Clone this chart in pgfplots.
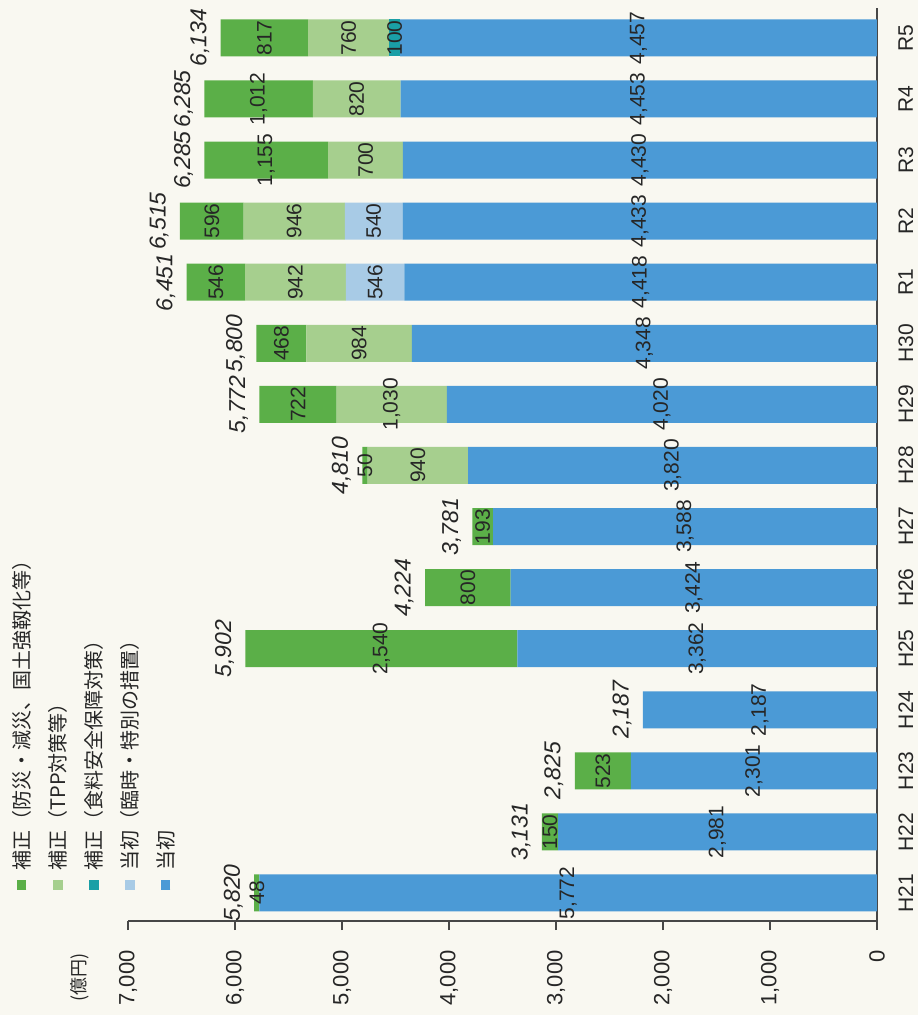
\documentclass[border=0pt]{standalone}
\usepackage{fontspec}
\setmainfont{Liberation Sans}
\newfontfamily\jp{Noto Sans CJK JP}
\usepackage{graphicx}
\usepackage{pgfplots}
\usepackage{pgfplotstable}
\pgfplotsset{compat=1.18}

\definecolor{tousho}{HTML}{4B9AD6}
\definecolor{rinji}{HTML}{A8CBE6}
\definecolor{shokuryo}{HTML}{1A9FA6}
\definecolor{tpp}{HTML}{A6CF8E}
\definecolor{bousai}{HTML}{5BAF48}
\definecolor{paper}{HTML}{F9F8F1}
\definecolor{ink}{HTML}{262626}

% legend entry turned on its side: swatch first, then the text
\newcommand{\legitem}[2]{\rotatebox{90}{\textcolor{#1}{\rule[1.5pt]{4.6pt}{4.6pt}}\hspace{5pt}#2}}
\newcommand{\up}[1]{\rotatebox{90}{#1}}

% budget by year, 億円 (H21 ... R5 -> y = 0 ... 14)
\pgfplotstableread{
y tousho rinji shokuryo tpp bousai
0  5772 0   0   0    48
1  2981 0   0   0    150
2  2301 0   0   0    523
3  2187 0   0   0    0
4  3362 0   0   0    2540
5  3424 0   0   0    800
6  3588 0   0   0    193
7  3820 0   0   940  50
8  4020 0   0   1030 722
9  4348 0   0   984  468
10 4418 546 0   942  546
11 4433 540 0   946  596
12 4430 0   0   700  1155
13 4453 0   0   820  1012
14 4457 0   100 760  817
}\budget

% labels in the middle of each segment
\pgfplotstableread{
x y lab
2886   0  5,772
5796   0  48
1490.5 1  2,981
3056   1  150
1150.5 2  2,301
2562.5 2  523
1093.5 3  2,187
1681   4  3,362
4632   4  2,540
1712   5  3,424
3824   5  800
1794   6  3,588
3684.5 6  193
1910   7  3,820
4290   7  940
4785   7  50
2010   8  4,020
4535   8  1,030
5411   8  722
2174   9  4,348
4840   9  984
5566   9  468
2209   10 4,418
4691   10 546
5435   10 942
6179   10 546
2216.5 11 4,433
4703   11 540
5446   11 946
6217   11 596
2215   12 4,430
4780   12 700
5707.5 12 1,155
2226.5 13 4,453
4863   13 820
5779   13 1,012
2228.5 14 4,457
4507   14 100
4937   14 760
5725.5 14 817
}\seglabels

% totals at the end of each bar
\pgfplotstableread{
x y lab
5820 0  5,820
3131 1  3,131
2825 2  2,825
2187 3  2,187
5902 4  5,902
4224 5  4,224
3781 6  3,781
4810 7  4,810
5772 8  5,772
5800 9  5,800
6451 10 6,451
6515 11 6,515
6285 12 6,285
6285 13 6,285
6134 14 6,134
}\totals

\pgfplotsset{
  chartframe/.style={
    width=374.5pt, height=456.5pt, scale only axis,
    at={(0,0)}, anchor=south west,
    x dir=reverse, xmin=0, xmax=7000,
    ymin=-0.4585, ymax=14.49,
    enlargelimits=false, clip=false,
  }
}

\begin{document}
\begin{tikzpicture}
\useasboundingbox (-64pt,-47pt) rectangle (395pt,460.5pt);
\fill[paper] (-64pt,-47pt) rectangle (395pt,460.5pt);

\begin{axis}[
  chartframe,
  xbar stacked, bar width=18.5pt,
  axis x line*=bottom, axis y line*=right,
  axis line style={draw=ink!85, line width=0.8pt},
  xtick={0,1000,...,7000},
  xticklabels={\up{0},\up{1,000},\up{2,000},\up{3,000},\up{4,000},\up{5,000},\up{6,000},\up{7,000}},
  tick align=outside, major tick length=4.5pt,
  xtick style={draw=ink!85, line width=0.8pt},
  xticklabel shift=10pt,
  xticklabel style={anchor=north, inner sep=0pt,
    font=\fontsize{11}{12}\selectfont, text=ink},
  ytick={0,...,14},
  yticklabels={H21,H22,H23,H24,H25,H26,H27,H28,H29,H30,R1,R2,R3,R4,R5},
  ytick style={draw=none},
  yticklabel style={rotate=90, anchor=north, inner ysep=6pt, inner xsep=0pt,
    font=\fontsize{10.5}{12}\selectfont, text=ink},
  reverse legend,
  legend columns=-1,
  legend image code/.code={},
  legend style={draw=none, fill=none, inner sep=0pt,
    at={(axis description cs:-0.1549,0.0307)}, anchor=south west,
    font=\jp\fontsize{10}{12}\selectfont, text=ink,
    cells={anchor=base west}, nodes={inner sep=0pt},
    /tikz/every odd column/.style={column sep=0pt},
    /tikz/every even column/.style={column sep=8.5pt}},
]
\addplot[fill=tousho, draw=none] table[x=tousho, y=y] {\budget};
\addlegendentry{\legitem{tousho}{当初}}
\addplot[fill=rinji, draw=none] table[x=rinji, y=y] {\budget};
\addlegendentry{\legitem{rinji}{当初（臨時・特別の措置）}}
\addplot[fill=shokuryo, draw=none] table[x=shokuryo, y=y] {\budget};
\addlegendentry{\legitem{shokuryo}{補正（食料安全保障対策）}}
\addplot[fill=tpp, draw=none] table[x=tpp, y=y] {\budget};
\addlegendentry{\legitem{tpp}{補正（TPP対策等）}}
\addplot[fill=bousai, draw=none] table[x=bousai, y=y] {\budget};
\addlegendentry{\legitem{bousai}{補正（防災・減災、国土強靱化等）}}

\node[rotate=90, anchor=east, inner sep=0pt, text=ink,
  font=\jp\fontsize{9}{10}\selectfont]
  at (axis description cs:-0.064,-0.035) {(億円)};
\end{axis}

\begin{axis}[chartframe, hide axis]
\addplot[draw=none, mark=none, nodes near coords, point meta=explicit symbolic,
  every node near coord/.append style={rotate=90, anchor=center, inner sep=0pt,
    font=\fontsize{10.5}{12}\selectfont, text=ink}]
  table[x=x, y=y, meta=lab] {\seglabels};
\addplot[draw=none, mark=none, nodes near coords, point meta=explicit symbolic,
  every node near coord/.append style={rotate=90, anchor=south, inner xsep=0pt,
    inner ysep=5.5pt, font=\itshape\fontsize{11.5}{12}\selectfont, text=ink}]
  table[x=x, y=y, meta=lab] {\totals};
\end{axis}
\end{tikzpicture}
\end{document}
